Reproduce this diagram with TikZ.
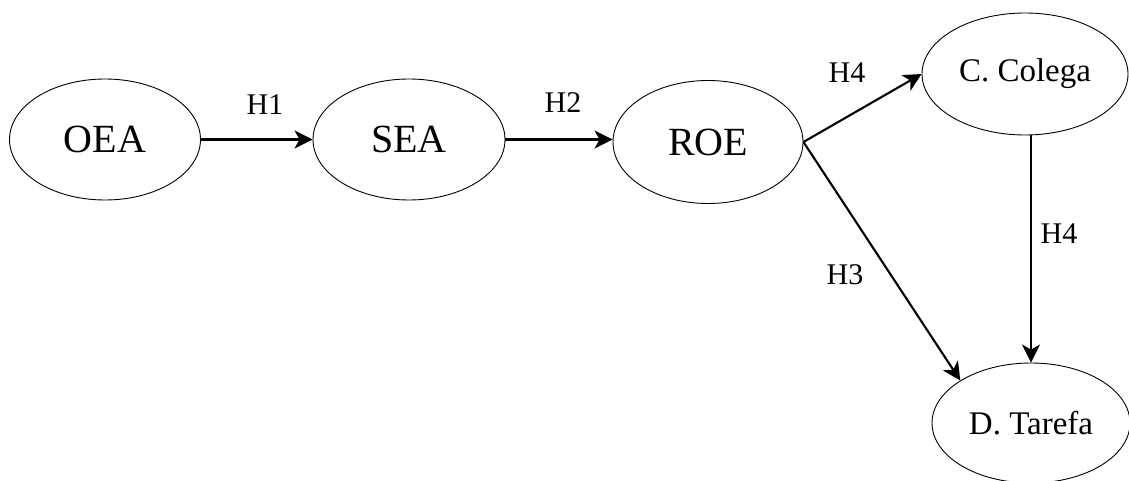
\documentclass[tikz,border=0pt]{standalone}
\usepackage{fontspec}
\setmainfont{Liberation Serif}
\usetikzlibrary{shapes.geometric,arrows.meta}
\tikzset{
  var/.style={ellipse,draw,line width=0.9pt,inner sep=0pt},
  big/.style={font=\fontsize{40}{44}\selectfont},
  mid/.style={font=\fontsize{33}{38}\selectfont},
  lab/.style={font=\fontsize{30}{34}\selectfont,inner sep=0pt},
  link/.style={line width=2.1pt,-{Stealth[length=18pt,width=18pt,inset=5pt]}}
}
\begin{document}
\begin{tikzpicture}[x=1pt,y=-1pt]
\useasboundingbox (0,0) rectangle (1129,481);
\node[var,big,minimum width=191pt,minimum height=121pt] (oea) at (105,139.5) {OEA};
\node[var,big,minimum width=192pt,minimum height=121pt] (sea) at (409,139.5) {SEA};
\node[var,big,minimum width=190pt,minimum height=123pt] (roe) at (708,142) {ROE};
\node[var,mid,minimum width=206pt,minimum height=122pt] (col) at (1025,74) {C. Colega};
\node[var,mid,minimum width=198pt,minimum height=120pt] (tar) at (1031,423) {D. Tarefa};
\draw[link] (oea.east) -- (sea.west);
\draw[link] (sea.east) -- (sea.east -| roe.west);
\draw[link] (roe.east) -- (col.west);
\draw[link] (roe.east) -- (tar.149);
\draw[link] (tar.north |- col.south) -- (tar.north);
\node[lab] (h1) at (265,105) {H1};
\node[lab] (h2) at (563,103) {H2};
\node[lab] (h4a) at (847,73) {H4};
\node[lab] (h3) at (845,275) {H3};
\node[lab] (h4b) at (1059,234) {H4};
\end{tikzpicture}
\end{document}
